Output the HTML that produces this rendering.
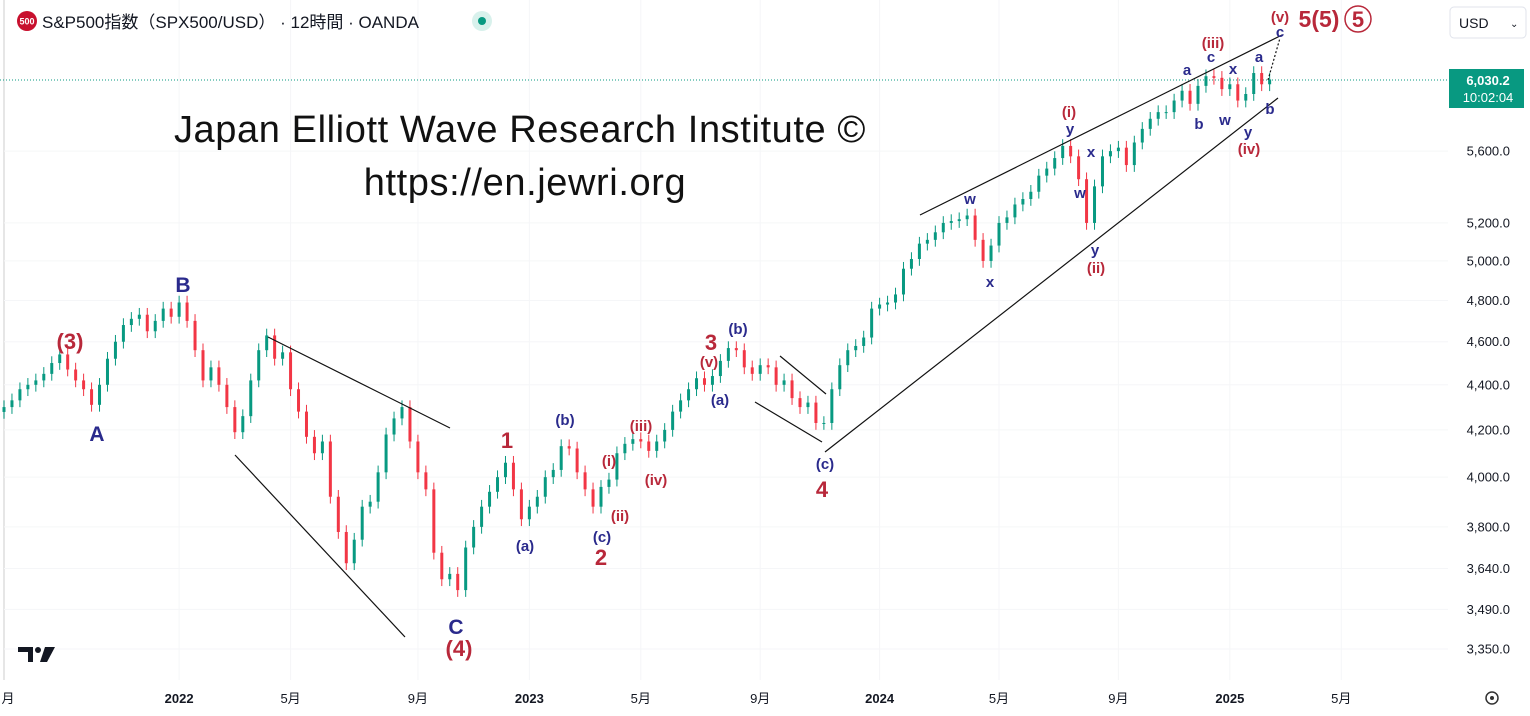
<!DOCTYPE html>
<html><head><meta charset="utf-8">
<style>
html,body{margin:0;padding:0;background:#fff;}
body{width:1530px;height:711px;overflow:hidden;font-family:"Liberation Sans","Noto Sans CJK JP",sans-serif;}
svg text{font-family:"Liberation Sans","Noto Sans CJK JP",sans-serif;}
</style></head>
<body>
<svg id="chart" width="1530" height="711" viewBox="0 0 1530 711" xmlns="http://www.w3.org/2000/svg">
<rect x="0" y="0" width="1530" height="711" fill="#fff"/>
<line x1="4" y1="0" x2="4" y2="680" stroke="#e6e6e6" stroke-width="2"/>
<g id="grid"></g>
<g>
  <circle cx="27" cy="21" r="10" fill="#c8102e"/>
  <text x="27" y="24.5" font-size="9" fill="#fff" text-anchor="middle" font-weight="bold">500</text>
  <text x="42" y="28" font-size="17" fill="#131722">S&amp;P500指数（SPX500/USD） · 12時間 · OANDA</text>
  <circle cx="482" cy="21" r="10" fill="#d8f1ec"/>
  <circle cx="482" cy="21" r="4" fill="#089981"/>
</g>
<g>
  <rect x="1450" y="7" width="76" height="31" rx="4" fill="#fff" stroke="#e0e3eb"/>
  <text x="1459" y="28" font-size="14" fill="#131722">USD</text>
  <text x="1510" y="27" font-size="10" fill="#131722">⌄</text>
</g>
<text x="520" y="142" font-size="38" letter-spacing="0.6" fill="#111" text-anchor="middle">Japan Elliott Wave Research Institute ©</text>
<text x="525" y="195" font-size="38" letter-spacing="0.6" fill="#111" text-anchor="middle">https://en.jewri.org</text>
<line x1="0" y1="80" x2="1448" y2="80" stroke="#089981" stroke-width="1" stroke-dasharray="1,2"/>
<g id="candles"></g>
<g stroke="#111" stroke-width="1.2">
  <line x1="268" y1="337" x2="450" y2="428"/>
  <line x1="235" y1="455" x2="405" y2="637"/>
  <line x1="780" y1="356" x2="826" y2="394"/>
  <line x1="755" y1="402" x2="822" y2="442"/>
  <line x1="825" y1="452" x2="1278" y2="98"/>
  <line x1="920" y1="215" x2="1282" y2="35"/>
  <line x1="1268" y1="80" x2="1280" y2="38" stroke-dasharray="2,2"/>
</g>
<g id="labels" font-weight="bold" text-anchor="middle">
  <text x="70" y="349" font-size="22" fill="#b8283a">(3)</text>
  <text x="97" y="441" font-size="21" fill="#2a2a8c">A</text>
  <text x="183" y="292" font-size="21" fill="#2a2a8c">B</text>
  <text x="456" y="634" font-size="21" fill="#2a2a8c">C</text>
  <text x="459" y="656" font-size="22" fill="#b8283a">(4)</text>
  <text x="507" y="448" font-size="22" fill="#b8283a">1</text>
  <text x="525" y="551" font-size="15" fill="#2a2a8c">(a)</text>
  <text x="565" y="425" font-size="15" fill="#2a2a8c">(b)</text>
  <text x="602" y="542" font-size="15" fill="#2a2a8c">(c)</text>
  <text x="601" y="565" font-size="22" fill="#b8283a">2</text>
  <text x="609" y="466" font-size="15" fill="#b8283a">(i)</text>
  <text x="620" y="521" font-size="15" fill="#b8283a">(ii)</text>
  <text x="641" y="431" font-size="15" fill="#b8283a">(iii)</text>
  <text x="656" y="485" font-size="15" fill="#b8283a">(iv)</text>
  <text x="711" y="350" font-size="22" fill="#b8283a">3</text>
  <text x="709" y="367" font-size="15" fill="#b8283a">(v)</text>
  <text x="738" y="334" font-size="15" fill="#2a2a8c">(b)</text>
  <text x="720" y="405" font-size="15" fill="#2a2a8c">(a)</text>
  <text x="825" y="469" font-size="15" fill="#2a2a8c">(c)</text>
  <text x="822" y="497" font-size="22" fill="#b8283a">4</text>
  <text x="970" y="204" font-size="15" fill="#2a2a8c">w</text>
  <text x="990" y="287" font-size="15" fill="#2a2a8c">x</text>
  <text x="1069" y="117" font-size="15" fill="#b8283a">(i)</text>
  <text x="1070" y="134" font-size="15" fill="#2a2a8c">y</text>
  <text x="1091" y="157" font-size="15" fill="#2a2a8c">x</text>
  <text x="1080" y="198" font-size="15" fill="#2a2a8c">w</text>
  <text x="1095" y="255" font-size="15" fill="#2a2a8c">y</text>
  <text x="1096" y="273" font-size="15" fill="#b8283a">(ii)</text>
  <text x="1187" y="75" font-size="15" fill="#2a2a8c">a</text>
  <text x="1199" y="129" font-size="15" fill="#2a2a8c">b</text>
  <text x="1213" y="48" font-size="15" fill="#b8283a">(iii)</text>
  <text x="1211" y="62" font-size="15" fill="#2a2a8c">c</text>
  <text x="1233" y="74" font-size="15" fill="#2a2a8c">x</text>
  <text x="1225" y="125" font-size="15" fill="#2a2a8c">w</text>
  <text x="1248" y="137" font-size="15" fill="#2a2a8c">y</text>
  <text x="1249" y="154" font-size="15" fill="#b8283a">(iv)</text>
  <text x="1259" y="62" font-size="15" fill="#2a2a8c">a</text>
  <text x="1270" y="114" font-size="15" fill="#2a2a8c">b</text>
  <text x="1280" y="37" font-size="15" fill="#2a2a8c">c</text>
  <text x="1280" y="22" font-size="15" fill="#b8283a">(v)</text>
  <text x="1319" y="27" font-size="23" fill="#b8283a">5(5)</text>
  <circle cx="1358" cy="19" r="13" fill="none" stroke="#b8283a" stroke-width="1.5"/>
  <text x="1358" y="27" font-size="22" fill="#b8283a">5</text>
</g>
<g id="yaxis"></g>
<g>
  <rect x="1449" y="69" width="75" height="39" fill="#089981"/>
  <text x="1488" y="85" font-size="13" fill="#fff" text-anchor="middle" font-weight="bold">6,030.2</text>
  <text x="1488" y="102" font-size="13" fill="#fff" text-anchor="middle">10:02:04</text>
</g>
<g id="xaxis"></g>
<g>
  <path d="M18 647h15v15h-5v-10h-10z" fill="#131722"/>
  <circle cx="38" cy="650" r="3" fill="#131722"/>
  <path d="M45 647h10l-8 15h-7z" fill="#131722"/>
</g>
<g>
  <circle cx="1492" cy="698" r="6" fill="none" stroke="#333" stroke-width="1.5"/>
  <circle cx="1492" cy="698" r="2" fill="#333"/>
</g>
</svg>
<script>
const closes = [4300,4330,4380,4400,4420,4450,4500,4540,4470,4420,4380,4310,4400,4520,4600,4680,4710,4730,4650,4700,4760,4720,4790,4700,4560,4420,4480,4400,4300,4190,4260,4420,4560,4630,4520,4550,4380,4280,4170,4100,4150,3920,3780,3660,3750,3880,3900,4020,4180,4250,4300,4150,4020,3950,3700,3600,3620,3560,3720,3800,3880,3940,4000,4060,3950,3830,3880,3920,4000,4030,4130,4120,4020,3950,3880,3960,3990,4100,4140,4160,4150,4110,4150,4200,4280,4330,4380,4430,4400,4440,4510,4570,4560,4480,4450,4490,4480,4400,4420,4340,4300,4320,4230,4230,4380,4490,4560,4580,4620,4760,4780,4790,4830,4960,5010,5090,5110,5150,5200,5210,5220,5240,5110,5000,5080,5200,5230,5300,5330,5370,5460,5500,5560,5630,5570,5440,5200,5400,5570,5600,5620,5520,5650,5730,5790,5830,5830,5900,5960,5880,5990,6050,6040,5970,6000,5900,5940,6070,6000,6030];
const priceTicks = [3350,3490,3640,3800,4000,4200,4400,4600,4800,5000,5200,5600];
const timeLabels = ["月","2022","5月","9月","2023","5月","9月","2024","5月","9月","2025","5月"];
const timeLabelBold = [false,true,false,false,true,false,false,true,false,false,true,false];
const timeLabelBarIndex = [0,22,36,52,66,80,95,110,125,140,154,168];

const NS="http://www.w3.org/2000/svg";
const yScale = p => 649 - 969*Math.log(p/3350);
const xScale = i => 4 + i*7.96;
const fmt = v => v.toLocaleString('en-US',{minimumFractionDigits:1,maximumFractionDigits:1});

const grid=document.getElementById('grid');
const cg=document.getElementById('candles');
const ya=document.getElementById('yaxis');
const xa=document.getElementById('xaxis');

priceTicks.forEach(p=>{
  const y=yScale(p);
  const gl=document.createElementNS(NS,'line');
  gl.setAttribute('x1',4);gl.setAttribute('x2',1448);gl.setAttribute('y1',y);gl.setAttribute('y2',y);
  gl.setAttribute('stroke','#f5f6f8');
  
  
  grid.appendChild(gl);
  const t=document.createElementNS(NS,'text');
  t.setAttribute('x',1510);t.setAttribute('y',y+4.5);t.setAttribute('font-size','13');
  t.setAttribute('fill','#131722');t.setAttribute('text-anchor','end');
  t.textContent=fmt(p);
  
  
  ya.appendChild(t);
});

timeLabels.forEach((lab,k)=>{
  const x = k===0 ? 8 : xScale(timeLabelBarIndex[k]);
  if(k>0){
    const gl=document.createElementNS(NS,'line');
    gl.setAttribute('x1',x);gl.setAttribute('x2',x);gl.setAttribute('y1',0);gl.setAttribute('y2',680);
    gl.setAttribute('stroke','#f5f6f8');
    
    
    grid.appendChild(gl);
  }
  const t=document.createElementNS(NS,'text');
  t.setAttribute('x',x);t.setAttribute('y',703);t.setAttribute('font-size','13');
  t.setAttribute('fill','#131722');t.setAttribute('text-anchor','middle');
  if(timeLabelBold[k]) t.setAttribute('font-weight','bold');
  t.textContent=lab;
  
  
  xa.appendChild(t);
});

closes.forEach((c,i)=>{
  const o = i===0 ? c*0.995 : closes[i-1];
  const hi = Math.max(o,c)*1.007, lo = Math.min(o,c)*0.993;
  const up = c>=o;
  const col = up ? '#089981' : '#f23645';
  const x = xScale(i);
  const w=document.createElementNS(NS,'line');
  w.setAttribute('x1',x);w.setAttribute('x2',x);w.setAttribute('y1',yScale(hi));w.setAttribute('y2',yScale(lo));
  w.setAttribute('stroke',col);w.setAttribute('stroke-width','1');
  
  
  cg.appendChild(w);
  const r=document.createElementNS(NS,'rect');
  const y1=yScale(Math.max(o,c)), y2=yScale(Math.min(o,c));
  r.setAttribute('x',x-1.5);r.setAttribute('width',3);
  r.setAttribute('y',y1);r.setAttribute('height',Math.max(1,y2-y1));
  r.setAttribute('fill',col);
  
  
  cg.appendChild(r);
});
</script>
</body></html>
